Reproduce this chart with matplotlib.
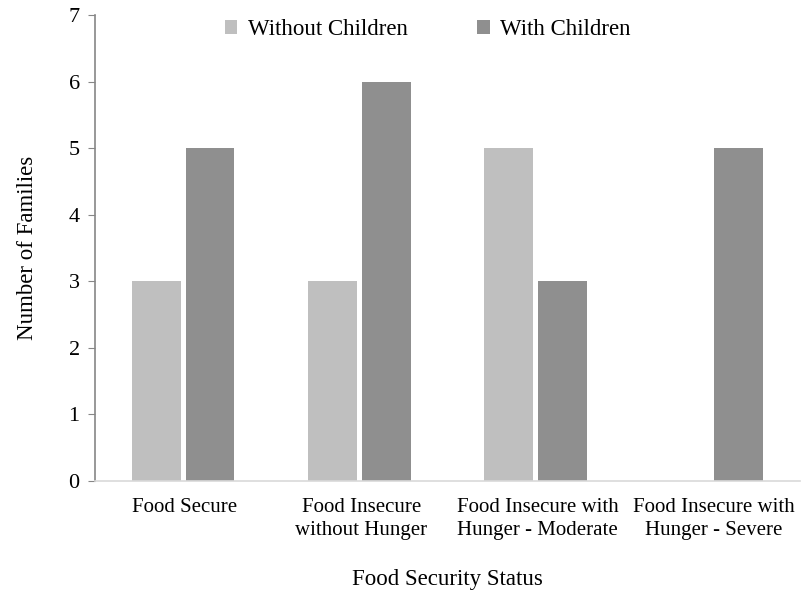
"""Food security status by family type, grouped bar chart."""

import matplotlib

matplotlib.use('Agg')
import matplotlib.pyplot as plt
import numpy as np

categories = [
    'Food Secure',
    'Food Insecure\nwithout Hunger',
    'Food Insecure with\nHunger - Moderate',
    'Food Insecure with\nHunger - Severe',
]
without_children = [3, 3, 5, 0]
with_children = [5, 6, 3, 5]
y_ticks = [0, 1, 2, 3, 4, 5, 6, 7]

plt.rcParams['font.family'] = ['Liberation Serif', 'DejaVu Serif']

fig = plt.figure(figsize=(8.04, 5.90), dpi=100)
ax = fig.add_axes([95 / 804, 109 / 590, 705 / 804, 466 / 590])

x = np.arange(len(categories))
width = 0.277
offset = 0.152
ax.bar(x - offset, without_children, width, color='#bfbfbf', label='Without Children')
ax.bar(x + offset, with_children, width, color='#8f8f8f', label='With Children')

ax.set_xlim(-0.5, len(categories) - 0.5)
ax.set_ylim(0, 7)
ax.set_yticks(y_ticks)
ax.set_xticks(x + 0.01)
ax.set_xticklabels(categories, fontsize=15, linespacing=1.3)
ax.tick_params(axis='y', labelsize=16, direction='out', length=5, color='#868686', pad=6)
ax.tick_params(axis='x', length=0, pad=12)

for side in ('top', 'right'):
    ax.spines[side].set_visible(False)
ax.spines['left'].set_color('#868686')
ax.spines['left'].set_linewidth(1.2)
ax.spines['bottom'].set_color('#d9d9d9')
ax.spines['bottom'].set_linewidth(1.2)

ax.set_ylabel('Number of Families', fontsize=16.5, labelpad=22)
ax.set_xlabel('Food Security Status', fontsize=16.5, labelpad=21)

ax.legend(
    loc='upper center',
    bbox_to_anchor=(0.472, 1.035),
    ncol=2,
    frameon=False,
    fontsize=16.5,
    handlelength=0.55,
    handleheight=0.55,
    handletextpad=0.45,
    columnspacing=3.05,
)

fig.savefig('out.png', dpi=100)
